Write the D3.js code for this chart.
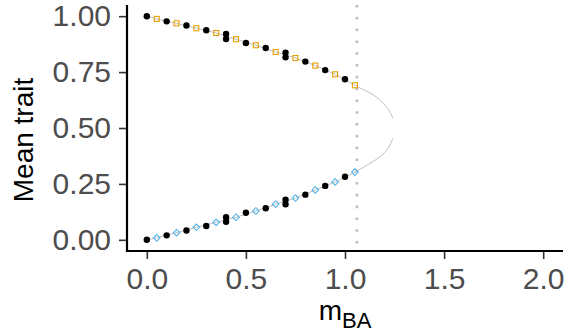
<!DOCTYPE html>
<html>
<head>
<meta charset="utf-8">
<script src="https://cdn.jsdelivr.net/npm/d3@7"></script>
<style>
  html, body { margin: 0; padding: 0; background: #fff; }
  svg { display: block; font-family: "Liberation Sans", Arial, Helvetica, sans-serif; }
</style>
</head>
<body>
<svg id="chart" width="566" height="336"></svg>
<script>
// Simulation runs (filled points)
const simM     = [0, 0.1, 0.2, 0.3, 0.4, 0.4, 0.5, 0.6, 0.7, 0.7, 0.8, 0.9, 1.0];
const simUpper = [1.000, 0.977, 0.958, 0.937, 0.920, 0.898, 0.880, 0.858, 0.837, 0.816, 0.797, 0.759, 0.718];
const simLower = [0.000, 0.020, 0.042, 0.062, 0.101, 0.081, 0.121, 0.141, 0.179, 0.159, 0.202, 0.241, 0.282];

// Analytical equilibria (open squares / diamonds)
const eqM     = [0.05, 0.15, 0.25, 0.35, 0.45, 0.55, 0.65, 0.75, 0.85, 0.95, 1.05];
const eqUpper = [0.988, 0.968, 0.946, 0.925, 0.897, 0.870, 0.840, 0.813, 0.779, 0.740, 0.691];
const eqLower = [0.009, 0.032, 0.056, 0.078, 0.101, 0.129, 0.159, 0.187, 0.223, 0.259, 0.303];

// Continuous equilibrium branches up to the fold
const branchUpperM = [0, 0.05, 0.15, 0.25, 0.35, 0.45, 0.55, 0.65, 0.75, 0.85, 0.95, 1.05, 1.10, 1.143, 1.193, 1.227, 1.241];
const branchUpper  = [1.000, 0.988, 0.968, 0.946, 0.925, 0.897, 0.870, 0.840, 0.813, 0.779, 0.740, 0.691, 0.668, 0.648, 0.610, 0.573, 0.543];
const branchLowerM = [0, 0.05, 0.15, 0.25, 0.35, 0.45, 0.55, 0.65, 0.75, 0.85, 0.95, 1.05, 1.126, 1.177, 1.218, 1.241];
const branchLower  = [0.000, 0.009, 0.032, 0.056, 0.078, 0.101, 0.129, 0.159, 0.187, 0.223, 0.259, 0.303, 0.342, 0.372, 0.409, 0.454];

// Critical migration rate
const criticalM = 1.06;

const xTicks = [0, 0.5, 1.0, 1.5, 2.0];
const yTicks = [0, 0.25, 0.5, 0.75, 1.0];

const svg = d3.select("#chart");
const panelLeft = 127, panelRight = 563, panelTop = 5, panelBottom = 251;

const x = d3.scaleLinear().domain([-0.1, 2.1]).range([panelLeft, panelRight]);
const y = d3.scaleLinear().domain([-0.05, 1.05]).range([panelBottom, panelTop]);

// Equilibrium branches
const line = d3.line().x(d => x(d[0])).y(d => y(d[1])).curve(d3.curveCatmullRom);
const g = svg.append("g");
[[branchUpperM, branchUpper], [branchLowerM, branchLower]].forEach(([ms, vs]) => {
  g.append("path")
    .datum(ms.map((m, i) => [m, vs[i]]))
    .attr("d", line)
    .attr("fill", "none")
    .attr("stroke", "#BEBEBE")
    .attr("stroke-width", 1);
});

// Critical value marker
g.append("line")
  .attr("x1", x(criticalM)).attr("x2", x(criticalM))
  .attr("y1", panelTop).attr("y2", panelBottom)
  .attr("stroke", "#BEBEBE")
  .attr("stroke-width", 2.6)
  .attr("stroke-dasharray", "2.6 9.2");

// Simulation points
const sims = simM.flatMap((m, i) => [[m, simUpper[i]], [m, simLower[i]]]);
g.selectAll("circle.sim").data(sims).join("circle")
  .attr("class", "sim")
  .attr("cx", d => x(d[0])).attr("cy", d => y(d[1]))
  .attr("r", 3.2).attr("fill", "#000");

// Upper equilibrium: open squares
const sq = 5;
g.selectAll("rect.eq").data(eqM.map((m, i) => [m, eqUpper[i]])).join("rect")
  .attr("class", "eq")
  .attr("x", d => x(d[0]) - sq / 2).attr("y", d => y(d[1]) - sq / 2)
  .attr("width", sq).attr("height", sq)
  .attr("fill", "none").attr("stroke", "#E69F00").attr("stroke-width", 1.1);

// Lower equilibrium: open diamonds
const dm = 3.3;
g.selectAll("path.eq").data(eqM.map((m, i) => [m, eqLower[i]])).join("path")
  .attr("class", "eq")
  .attr("d", d => {
    const cx = x(d[0]), cy = y(d[1]);
    return `M${cx},${cy - dm}L${cx + dm},${cy}L${cx},${cy + dm}L${cx - dm},${cy}Z`;
  })
  .attr("fill", "none").attr("stroke", "#56B4E9").attr("stroke-width", 1.1);

// Axes
const xAxis = svg.append("g")
  .attr("transform", `translate(0,${panelBottom})`)
  .call(d3.axisBottom(x).tickValues(xTicks).tickFormat(d3.format(".1f")).tickSize(8).tickPadding(9));
const yAxis = svg.append("g")
  .attr("transform", `translate(${panelLeft},0)`)
  .call(d3.axisLeft(y).tickValues(yTicks).tickFormat(d3.format(".2f")).tickSize(8).tickPadding(8));

[xAxis, yAxis].forEach(a => {
  a.select(".domain").remove();
  a.selectAll(".tick line").attr("stroke", "#333333").attr("stroke-width", 1.6);
  a.selectAll(".tick text").attr("fill", "#4D4D4D").style("font-size", "30px")
    .style("font-family", "'Liberation Sans', Arial, sans-serif");
});

// Axis lines
svg.append("line").attr("x1", panelLeft).attr("x2", panelLeft).attr("y1", panelTop).attr("y2", panelBottom + 1)
  .attr("stroke", "#000").attr("stroke-width", 2.2);
svg.append("line").attr("x1", panelLeft - 1).attr("x2", panelRight).attr("y1", panelBottom).attr("y2", panelBottom)
  .attr("stroke", "#000").attr("stroke-width", 2.2);

// Axis titles
svg.append("text")
  .attr("transform", `translate(33,140) rotate(-90)`)
  .attr("text-anchor", "middle")
  .style("font-size", "28px").attr("fill", "#000")
  .text("Mean trait");

const xt = svg.append("text")
  .attr("x", (panelLeft + panelRight) / 2).attr("y", 320)
  .attr("text-anchor", "middle")
  .style("font-size", "28px").attr("fill", "#000");
xt.append("tspan").text("m");
xt.append("tspan").attr("dy", 8).style("font-size", "22px").text("BA");
</script>
</body>
</html>
